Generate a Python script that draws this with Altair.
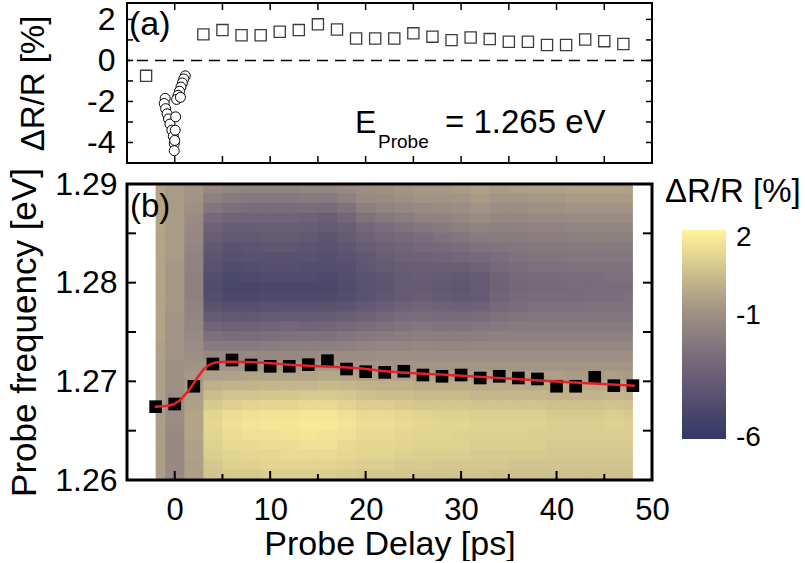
import altair as alt
import pandas as pd

FONT = "Liberation Sans"

# ---------------- Panel (a) data ----------------
sq_a_delay = [-3, 3, 5, 7, 9, 11, 13, 15, 17, 19, 21, 23, 25, 27, 29, 31, 33, 35, 37, 39, 41, 43, 45, 47]
sq_a_dr = [-0.75, 1.27, 1.48, 1.23, 1.23, 1.40, 1.48, 1.76, 1.51, 1.07, 1.07, 1.07,
           1.32, 1.16, 0.99, 1.12, 1.04, 0.91, 0.91, 0.75, 0.75, 1.02, 0.94, 0.80]
circ_a_delay = [1.1, 0.95, 0.8, 0.65, 0.5, 0.35, 0.2, 0.6, -1.0, -1.1, -0.95, -0.8, -0.65,
                -0.5, -0.3, -0.15, -0.05, -0.05, 0.1, 0.05, 0.0]
circ_a_dr = [-0.75, -0.9, -1.1, -1.3, -1.5, -1.7, -1.9, -1.8, -1.85, -2.1, -2.35, -2.6, -2.85,
             -3.1, -3.4, -3.7, -4.05, -4.4, -2.75, -3.4, -3.9]
a_y_labels = [-4, -2, 0, 2]
a_x_ticks = [0, 5, 10, 15, 20, 25, 30, 35, 40, 45]
a_y_ticks = [-4, -3, -2, -1, 0, 1, 2]

# ---------------- Panel (b) data ----------------
map_delay = [-2, 0, 2, 4, 6, 8, 10, 12, 14, 16, 18, 20, 22, 24, 26, 28, 30, 32, 34, 36, 38, 40, 42, 44, 46, 48]
map_energy = [1.2895, 1.2885, 1.2875, 1.2865, 1.2855, 1.2845, 1.2835, 1.2825, 1.2815, 1.2805,
              1.2795, 1.2785, 1.2775, 1.2765, 1.2755, 1.2745, 1.2735, 1.2725, 1.2715, 1.2705,
              1.2695, 1.2685, 1.2675, 1.2665, 1.2655, 1.2645, 1.2635, 1.2625, 1.2615, 1.2605]
dr_map = [
    [-0.5, -0.8, -1.0, -1.5, -1.7, -1.8, -1.8, -1.8, -1.7, -1.7, -1.5, -1.3, -1.2, -1.0, -0.9, -0.9, -0.8, -0.6, -0.8, -0.7, -0.6, -0.6, -0.5, -0.5, -0.5, -0.6],
    [-0.5, -0.8, -1.1, -1.9, -2.2, -2.3, -2.3, -2.3, -2.2, -2.2, -1.9, -1.5, -1.4, -1.2, -1.1, -1.1, -1.0, -0.8, -1.0, -1.0, -0.9, -0.9, -0.8, -0.8, -0.8, -0.8],
    [-0.5, -0.8, -1.2, -2.4, -2.7, -2.8, -2.8, -2.8, -2.8, -2.9, -2.6, -2.0, -1.8, -1.6, -1.5, -1.4, -1.3, -1.1, -1.3, -1.3, -1.2, -1.2, -1.1, -1.1, -1.1, -1.1],
    [-0.5, -0.8, -1.4, -3.0, -3.3, -3.3, -3.3, -3.3, -3.4, -3.6, -3.2, -2.6, -2.3, -2.1, -1.9, -1.8, -1.6, -1.4, -1.6, -1.6, -1.5, -1.5, -1.4, -1.4, -1.4, -1.4],
    [-0.5, -0.8, -1.5, -3.4, -3.7, -3.7, -3.6, -3.6, -3.7, -3.9, -3.6, -3.1, -2.8, -2.6, -2.4, -2.2, -2.0, -1.8, -1.9, -1.9, -1.8, -1.8, -1.7, -1.7, -1.7, -1.7],
    [-0.5, -0.8, -1.6, -3.7, -4.0, -4.0, -3.9, -3.9, -4.0, -4.2, -3.9, -3.5, -3.2, -3.0, -2.8, -2.6, -2.4, -2.2, -2.2, -2.2, -2.1, -2.1, -2.0, -2.0, -2.0, -2.0],
    [-0.5, -0.8, -1.7, -4.0, -4.3, -4.2, -4.1, -4.1, -4.2, -4.3, -4.1, -3.7, -3.5, -3.3, -3.1, -3.0, -2.8, -2.6, -2.5, -2.4, -2.3, -2.3, -2.2, -2.2, -2.2, -2.2],
    [-0.5, -0.8, -1.8, -4.2, -4.5, -4.4, -4.4, -4.4, -4.4, -4.5, -4.3, -4.0, -3.7, -3.5, -3.4, -3.3, -3.2, -3.0, -2.8, -2.6, -2.5, -2.5, -2.4, -2.4, -2.4, -2.4],
    [-0.5, -0.9, -1.8, -4.4, -4.7, -4.6, -4.5, -4.5, -4.6, -4.6, -4.5, -4.1, -3.9, -3.7, -3.6, -3.6, -3.6, -3.4, -3.0, -2.8, -2.7, -2.7, -2.6, -2.6, -2.6, -2.6],
    [-0.5, -0.9, -1.9, -4.6, -4.9, -4.8, -4.7, -4.7, -4.7, -4.8, -4.6, -4.3, -4.1, -3.8, -3.7, -3.9, -4.0, -3.8, -3.3, -3.0, -2.9, -2.9, -2.8, -2.8, -2.7, -2.7],
    [-0.5, -0.9, -1.9, -4.7, -5.0, -5.0, -4.9, -4.9, -4.9, -4.9, -4.7, -4.4, -4.2, -3.9, -3.8, -4.0, -4.1, -3.9, -3.4, -3.1, -3.0, -3.0, -2.9, -2.9, -2.8, -2.8],
    [-0.5, -0.9, -1.9, -4.6, -4.9, -4.9, -4.8, -4.8, -4.8, -4.8, -4.6, -4.3, -4.1, -3.8, -3.7, -3.9, -4.0, -3.8, -3.3, -3.0, -2.9, -2.9, -2.9, -2.8, -2.8, -2.7],
    [-0.5, -0.9, -1.8, -4.3, -4.5, -4.5, -4.4, -4.4, -4.4, -4.3, -4.2, -3.9, -3.7, -3.4, -3.3, -3.4, -3.5, -3.4, -3.0, -2.8, -2.7, -2.7, -2.7, -2.6, -2.6, -2.6],
    [-0.5, -1.0, -1.7, -3.8, -4.0, -4.0, -3.9, -3.8, -3.9, -3.8, -3.6, -3.4, -3.2, -2.9, -2.8, -2.9, -2.9, -2.8, -2.6, -2.5, -2.4, -2.4, -2.4, -2.4, -2.4, -2.4],
    [-0.5, -1.0, -1.6, -3.3, -3.5, -3.4, -3.3, -3.2, -3.3, -3.2, -3.0, -2.8, -2.7, -2.5, -2.4, -2.5, -2.5, -2.4, -2.3, -2.2, -2.2, -2.2, -2.2, -2.2, -2.2, -2.2],
    [-0.5, -1.1, -1.5, -2.7, -2.8, -2.8, -2.7, -2.6, -2.6, -2.6, -2.4, -2.3, -2.2, -2.1, -2.0, -2.1, -2.1, -2.0, -1.9, -1.9, -1.9, -1.9, -1.9, -1.9, -1.9, -1.9],
    [-0.6, -1.1, -1.4, -2.2, -2.2, -2.2, -2.1, -2.0, -2.0, -2.0, -1.9, -1.8, -1.7, -1.7, -1.6, -1.7, -1.7, -1.6, -1.6, -1.6, -1.6, -1.6, -1.6, -1.6, -1.6, -1.6],
    [-0.6, -1.1, -1.3, -1.6, -1.6, -1.6, -1.5, -1.5, -1.5, -1.4, -1.4, -1.4, -1.3, -1.3, -1.3, -1.3, -1.3, -1.3, -1.3, -1.3, -1.3, -1.3, -1.3, -1.3, -1.3, -1.3],
    [-0.6, -1.2, -1.1, -1.1, -1.1, -1.1, -1.0, -1.0, -1.0, -0.9, -1.0, -1.0, -1.0, -1.0, -1.0, -1.0, -1.0, -1.0, -1.0, -1.0, -1.0, -1.0, -1.0, -1.0, -1.0, -1.0],
    [-0.6, -1.2, -0.9, -0.6, -0.6, -0.5, -0.5, -0.5, -0.5, -0.4, -0.5, -0.6, -0.6, -0.6, -0.6, -0.7, -0.7, -0.7, -0.7, -0.7, -0.7, -0.7, -0.8, -0.8, -0.7, -0.8],
    [-0.6, -1.2, -0.8, -0.1, 0.0, 0.0, 0.1, 0.1, 0.1, 0.2, 0.1, 0.0, -0.1, -0.1, -0.2, -0.2, -0.2, -0.3, -0.3, -0.3, -0.3, -0.3, -0.4, -0.4, -0.3, -0.4],
    [-0.6, -1.3, -0.7, 0.3, 0.5, 0.5, 0.6, 0.6, 0.7, 0.7, 0.6, 0.4, 0.3, 0.3, 0.2, 0.2, 0.2, 0.1, 0.1, 0.1, 0.1, 0.0, 0.0, 0.0, 0.1, 0.0],
    [-0.7, -1.3, -0.6, 0.7, 0.9, 1.0, 1.1, 1.1, 1.2, 1.2, 1.0, 0.8, 0.8, 0.7, 0.6, 0.6, 0.6, 0.5, 0.5, 0.5, 0.5, 0.4, 0.4, 0.4, 0.5, 0.4],
    [-0.7, -1.4, -0.5, 1.0, 1.3, 1.4, 1.5, 1.5, 1.6, 1.6, 1.4, 1.2, 1.2, 1.1, 1.0, 0.9, 0.9, 0.8, 0.8, 0.8, 0.8, 0.7, 0.7, 0.7, 0.8, 0.7],
    [-0.7, -1.4, -0.5, 1.1, 1.4, 1.5, 1.6, 1.6, 1.7, 1.7, 1.5, 1.3, 1.3, 1.2, 1.1, 1.0, 1.0, 0.9, 0.9, 0.9, 0.9, 0.8, 0.8, 0.8, 0.9, 0.8],
    [-0.7, -1.5, -0.5, 1.0, 1.3, 1.4, 1.4, 1.5, 1.6, 1.5, 1.4, 1.2, 1.2, 1.1, 1.0, 1.0, 0.9, 0.9, 0.9, 0.9, 0.8, 0.8, 0.8, 0.8, 0.8, 0.8],
    [-0.7, -1.5, -0.6, 0.9, 1.2, 1.2, 1.3, 1.3, 1.4, 1.4, 1.2, 1.1, 1.1, 1.0, 0.9, 0.9, 0.9, 0.8, 0.8, 0.8, 0.8, 0.7, 0.7, 0.7, 0.7, 0.7],
    [-0.7, -1.5, -0.6, 0.8, 1.0, 1.1, 1.1, 1.2, 1.2, 1.2, 1.1, 1.0, 1.0, 0.9, 0.8, 0.8, 0.8, 0.7, 0.7, 0.7, 0.7, 0.6, 0.6, 0.6, 0.6, 0.6],
    [-0.7, -1.5, -0.7, 0.6, 0.9, 0.9, 1.0, 1.0, 1.0, 1.0, 0.9, 0.8, 0.8, 0.7, 0.7, 0.6, 0.6, 0.6, 0.6, 0.5, 0.5, 0.5, 0.5, 0.5, 0.5, 0.5],
    [-0.7, -1.5, -0.7, 0.5, 0.7, 0.7, 0.8, 0.8, 0.8, 0.8, 0.7, 0.6, 0.6, 0.6, 0.5, 0.5, 0.5, 0.5, 0.4, 0.4, 0.4, 0.4, 0.4, 0.4, 0.4, 0.4],
]
sq_b_delay = map_delay
sq_b_energy = [1.26743, 1.26770, 1.26950, 1.27176, 1.27216, 1.27166, 1.27152, 1.27152, 1.27169,
               1.27209, 1.27125, 1.27098, 1.27091, 1.27102, 1.27064, 1.27051, 1.27064, 1.27034,
               1.27051, 1.27034, 1.27024, 1.26950, 1.26950, 1.27041, 1.26956, 1.26956]
fit_delay = [-2.09, -0.70, 0.35, 1.05, 1.75, 2.44, 3.14, 3.84, 4.54, 5.58, 6.63, 8.38,
             12.3, 19.3, 22.1, 28.1, 34.7, 41.4, 48.2]
fit_energy = [1.26743, 1.26753, 1.26794, 1.26861, 1.26946, 1.27047, 1.27132, 1.27176, 1.27193,
              1.27199, 1.27196, 1.27193, 1.27166, 1.27132, 1.27102, 1.27068, 1.27030, 1.26990, 1.26956]
b_x_labels = [0, 10, 20, 30, 40, 50]
b_x_major = [0, 10, 20, 30, 40]
b_x_minor = [5, 15, 25, 35, 45]
b_y_labels = [1.26, 1.27, 1.28, 1.29]
b_y_ticks = [1.265, 1.27, 1.275, 1.28, 1.285]
cbar_stops = [-6, -5, -4, -3, -2, -1, 0, 1, 2]
cbar_colors = ["#333866", "#4a466b", "#615872", "#76697a", "#8c7f80",
               "#a39585", "#c2b38a", "#e2d491", "#fff39a"]
cbar_label_pos = [1.71, -1.31, -5.97]

# ---------------- geometry ----------------
WA, HA = 525, 160
WB, HB = 525, 296

xs_a = alt.Scale(domain=[-5, 50], nice=False, zero=False)
ys_a = alt.Scale(domain=[-5, 2.8], nice=False, zero=False)
xs_b = alt.Scale(domain=[-5, 50], nice=False, zero=False)
ys_b = alt.Scale(domain=[1.26, 1.29], nice=False, zero=False)

common_axis = dict(ticks=False, tickSize=0, domain=False, grid=False, labelFlush=False,
                   labelOverlap=False, labelColor="black", titleColor="black",
                   titleFontWeight="normal")
ax_a_y = alt.Axis(values=a_y_labels, labelExpr="'' + datum.value", labelFontSize=32,
                  labelPadding=12, titleFontSize=33, titlePadding=36, **common_axis)
ax_b_x = alt.Axis(values=b_x_labels, labelFontSize=31, labelPadding=15,
                  titleFontSize=34, titlePadding=2, **common_axis)
ax_b_y = alt.Axis(values=b_y_labels, format=".2f", labelFontSize=32, labelPadding=10,
                  titleFontSize=35, titlePadding=12, **common_axis)
T_AY = "ΔR/R [%]"
T_BX = "Probe Delay [ps]"
T_BY = "Probe frequency [eV]"

def ya(field):
    return alt.Y(field, scale=ys_a, axis=ax_a_y, title=T_AY)

def xa(field):
    return alt.X(field, scale=xs_a, axis=None)

def xb(field):
    return alt.X(field, scale=xs_b, axis=ax_b_x, title=T_BX)

def yb(field):
    return alt.Y(field, scale=ys_b, axis=ax_b_y, title=T_BY)

# ---------------- Panel (a) ----------------
df_sq_a = pd.DataFrame({"delay": sq_a_delay, "dr": sq_a_dr})
df_circ_a = pd.DataFrame({"delay": circ_a_delay, "dr": circ_a_dr})
one = pd.DataFrame({"k": [0]})

zero_line = alt.Chart(one).transform_calculate(zero="0").mark_rule(
    color="black", strokeWidth=1.5, strokeDash=[11, 7]).encode(y=ya("zero:Q"))

sq_a = alt.Chart(df_sq_a).mark_point(shape="square", filled=True, fill="white", stroke="#3c3c3c",
                                     strokeWidth=1.3, size=125, opacity=1).encode(
    x=xa("delay:Q"), y=ya("dr:Q"))
circ_a = alt.Chart(df_circ_a).mark_point(shape="circle", filled=True, fill="white", stroke="black",
                                         strokeWidth=1, size=100, opacity=1).encode(
    x=xa("delay:Q"), y=ya("dr:Q"))

def text_layer(txt, x, y, size):
    return alt.Chart(pd.DataFrame({"t": [txt]})).mark_text(
        align="left", baseline="alphabetic", fontSize=size, color="black", font=FONT
    ).encode(text="t:N", x=alt.value(x), y=alt.value(y))

a_ticks_x = pd.DataFrame({"v": a_x_ticks})
a_ticks_y = pd.DataFrame({"v": a_y_ticks})
tick_a_bottom = alt.Chart(a_ticks_x).mark_rule(color="black", strokeWidth=1.5).encode(
    x=xa("v:Q"), y=alt.value(HA), y2=alt.value(HA - 7))
tick_a_top = alt.Chart(a_ticks_x).mark_rule(color="black", strokeWidth=1.5).encode(
    x=xa("v:Q"), y=alt.value(0), y2=alt.value(7))
tick_a_left = alt.Chart(a_ticks_y).mark_rule(color="black", strokeWidth=1.5).encode(
    y=ya("v:Q"), x=alt.value(0), x2=alt.value(6))
tick_a_right = alt.Chart(a_ticks_y).mark_rule(color="black", strokeWidth=1.5).encode(
    y=ya("v:Q"), x=alt.value(WA), x2=alt.value(WA - 6))
frame_a = alt.Chart(one).mark_rect(fillOpacity=0, stroke="black", strokeWidth=2).encode(
    x=alt.value(0), x2=alt.value(WA), y=alt.value(0), y2=alt.value(HA))

panel_a = alt.layer(
    zero_line, sq_a, circ_a,
    text_layer("(a)", 2, 32, 34),
    text_layer("E", 228, 130, 32),
    text_layer("Probe", 251, 145, 19),
    text_layer("= 1.265 eV", 318, 130, 33),
    tick_a_bottom, tick_a_top, tick_a_left, tick_a_right, frame_a,
).properties(width=WA, height=HA)

# ---------------- Panel (b) ----------------
rows = []
for e, vals in zip(map_energy, dr_map):
    for d, v in zip(map_delay, vals):
        rows.append({"delay": d, "energy": e, "dr": v})
heat_df = pd.DataFrame(rows)

cscale = alt.Scale(domain=cbar_stops, range=cbar_colors, interpolate="rgb")

heat = alt.Chart(heat_df).transform_calculate(
    x0="max(datum.delay - 1, -2)", x1="min(datum.delay + 1.15, 48)",
    e0="datum.energy - 0.0005", e1="min(datum.energy + 0.00058, 1.29)",
).mark_rect().encode(
    x=xb("x0:Q"), x2="x1:Q",
    y=yb("e0:Q"), y2="e1:Q",
    color=alt.Color("dr:Q", scale=cscale,
                    legend=alt.Legend(type="gradient", title=None, orient="none",
                                      legendX=555, legendY=46,
                                      direction="vertical", gradientLength=209,
                                      gradientThickness=44, gradientStrokeWidth=0,
                                      values=cbar_label_pos,
                                      labelExpr="datum.value > 0 ? '2' : datum.value > -3 ? '-1' : '-6'",
                                      labelFontSize=28, labelOffset=10,
                                      labelColor="black", labelOverlap=False, padding=0)),
)

df_sq_b = pd.DataFrame({"delay": sq_b_delay, "energy": sq_b_energy})
df_fit = pd.DataFrame({"delay": fit_delay, "energy": fit_energy})
sq_b = alt.Chart(df_sq_b).mark_square(color="black", size=160, opacity=1).encode(
    x=xb("delay:Q"), y=yb("energy:Q"))
fit_b = alt.Chart(df_fit).mark_line(color="#e8212b", strokeWidth=2.5, interpolate="monotone").encode(
    x=xb("delay:Q"), y=yb("energy:Q"))

b_major = pd.DataFrame({"v": b_x_major})
b_minor = pd.DataFrame({"v": b_x_minor})
b_yt = pd.DataFrame({"v": b_y_ticks})
tick_b_major = alt.Chart(b_major).mark_rule(color="black", strokeWidth=2).encode(
    x=xb("v:Q"), y=alt.value(HB), y2=alt.value(HB - 9))
tick_b_minor = alt.Chart(b_minor).mark_rule(color="black", strokeWidth=2).encode(
    x=xb("v:Q"), y=alt.value(HB), y2=alt.value(HB - 6))
tick_b_left = alt.Chart(b_yt).mark_rule(color="black", strokeWidth=2).encode(
    y=yb("v:Q"), x=alt.value(0), x2=alt.value(9))
tick_b_right = alt.Chart(b_yt).mark_rule(color="black", strokeWidth=2).encode(
    y=yb("v:Q"), x=alt.value(WB), x2=alt.value(WB - 9))
frame_b = alt.Chart(one).mark_rect(fillOpacity=0, stroke="black", strokeWidth=3).encode(
    x=alt.value(0), x2=alt.value(WB), y=alt.value(0), y2=alt.value(HB))

panel_b = alt.layer(
    heat, sq_b, fit_b,
    tick_b_major, tick_b_minor, tick_b_left, tick_b_right, frame_b,
    text_layer("(b)", 3, 33, 33),
    text_layer("ΔR/R [%]", 538, 18, 33),
).properties(width=WB, height=HB)

chart = alt.vconcat(panel_a, panel_b, spacing=21, bounds="flush").resolve_scale(
    color="independent"
).properties(
    padding={"left": 7, "top": 2, "right": 0, "bottom": 0}
).configure(font=FONT).configure_view(stroke=None)

chart.save("out.html", embed_options={"renderer": "svg", "actions": False})
